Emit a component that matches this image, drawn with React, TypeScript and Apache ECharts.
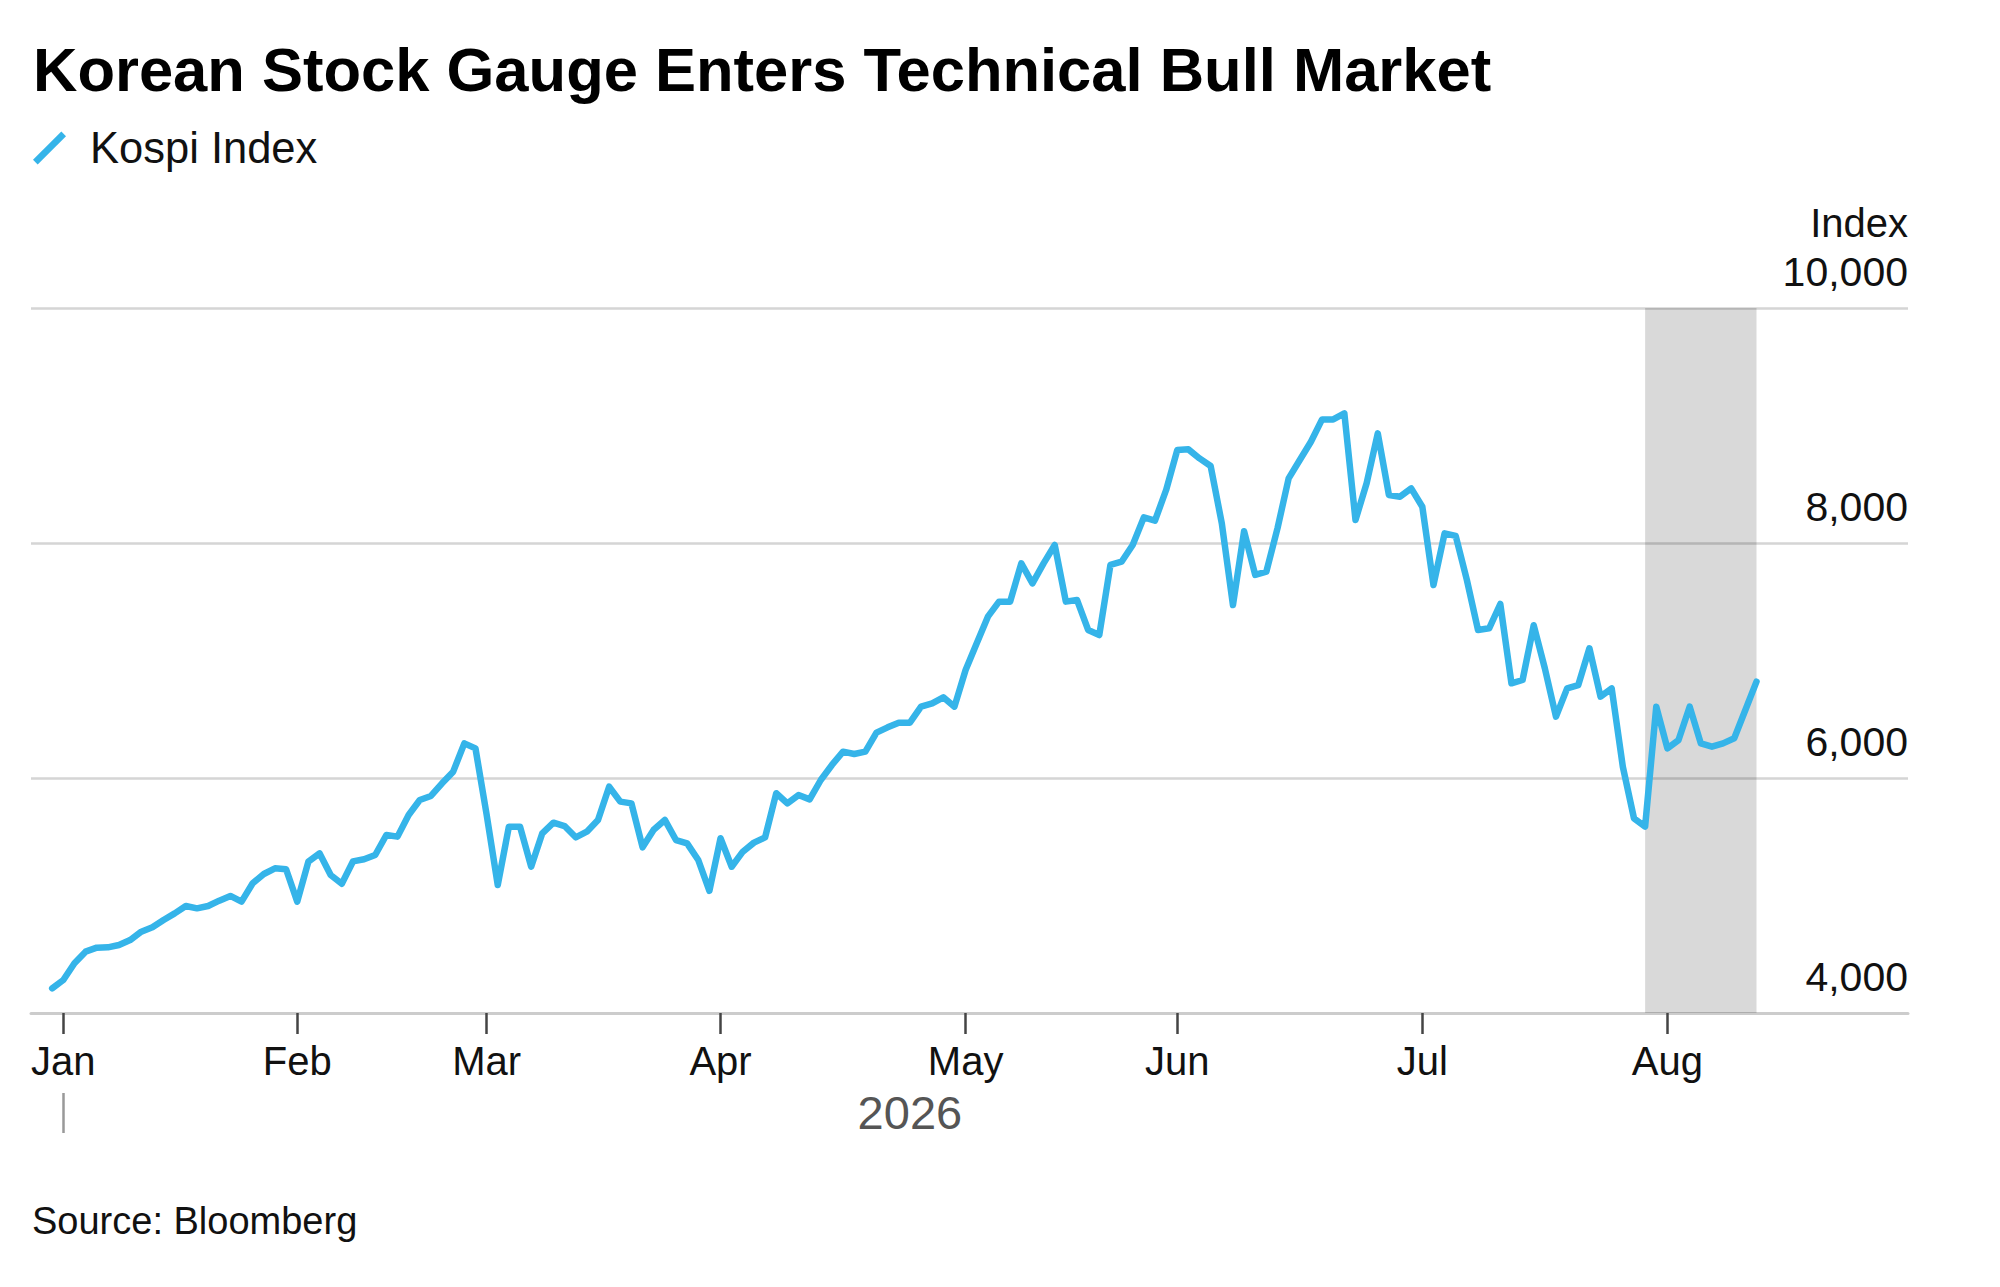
import React, { useEffect, useRef } from "react";
import * as echarts from "echarts";

// ---- Data ----
const titleText = "Korean Stock Gauge Enters Technical Bull Market";
const seriesName = "Kospi Index";
const sourceText = "Source: Bloomberg";
const yAxisName = "Index";

// Month tick labels and the trading-day index where each month starts
const monthLabels = ["Jan", "Feb", "Mar", "Apr", "May", "Jun", "Jul", "Aug"];
const monthStartIndex = [1, 22, 39, 60, 82, 101, 123, 145];
const yearLabel = "2026";
const yearStartIndex = 1;
const yearLabelIndex = 77;

const yTicks = [4000, 6000, 8000, 10000];

// Daily Kospi closes (trading days, index 0 = last session of prior year)
const kospiValues = [
  4210, 4281, 4423, 4522, 4556, 4559, 4579, 4621, 4692, 4729,
  4791, 4848, 4911, 4891, 4911, 4956, 4996, 4948, 5104, 5183,
  5231, 5223, 4948, 5288, 5359, 5174, 5100, 5290, 5308, 5345,
  5515, 5501, 5685, 5813, 5847, 5955, 6054, 6295, 6252, 5690,
  5089, 5586, 5586, 5245, 5529, 5620, 5591, 5495, 5543, 5643,
  5926, 5799, 5784, 5410, 5560, 5643, 5472, 5444, 5302, 5040,
  5487, 5245, 5373, 5450, 5495, 5870, 5784, 5855, 5818, 5983,
  6111, 6224, 6204, 6224, 6386, 6431, 6471, 6471, 6607, 6635,
  6687, 6607, 6919, 7146, 7373, 7501, 7501, 7827, 7657, 7827,
  7983, 7501, 7515, 7260, 7217, 7813, 7841, 7983, 8218, 8190,
  8451, 8791, 8797, 8720, 8655, 8167, 7472, 8100, 7728, 7756,
  8125, 8550, 8706, 8862, 9052, 9052, 9104, 8196, 8508, 8933,
  8409, 8394, 8465, 8309, 7643, 8082, 8060, 7685, 7260, 7274,
  7481, 6806, 6834, 7300, 6933, 6522, 6763, 6791, 7104, 6692,
  6763, 6096, 5657, 5586, 6607, 6252, 6323, 6607, 6295, 6267,
  6295, 6338, 6579, 6820,
];

// Shaded rally window (trading-day indices)
const rallyStartIndex = 143;
const rallyEndIndex = 153;

const FONT = "'Liberation Sans', Arial, Helvetica, sans-serif";
const LINE_COLOR = "#35b4e9";

export default function App() {
  const ref = useRef<HTMLDivElement>(null);

  useEffect(() => {
    if (!ref.current) return;
    const chart = echarts.init(ref.current, undefined, { renderer: "svg" });

    const xMin = -1.9;
    const xMax = 166.6;

    const option: any = {
      animation: false,
      backgroundColor: "#ffffff",
      textStyle: { fontFamily: FONT },
      title: [
        {
          text: titleText,
          left: 33,
          top: 38,
          padding: 0,
          textStyle: {
            fontFamily: FONT,
            fontSize: 61.5,
            fontWeight: "bold",
            color: "#000000",
            lineHeight: 62,
          },
        },
        {
          text: yAxisName,
          right: 92,
          top: 203,
          padding: 0,
          textStyle: {
            fontFamily: FONT,
            fontSize: 40,
            fontWeight: "normal",
            color: "#111111",
            lineHeight: 40,
          },
        },
        {
          text: sourceText,
          left: 32,
          top: 1202,
          padding: 0,
          textStyle: {
            fontFamily: FONT,
            fontSize: 38,
            fontWeight: "normal",
            color: "#111111",
            lineHeight: 38,
          },
        },
      ],
      legend: {
        left: 33,
        top: 126,
        padding: 0,
        itemWidth: 33,
        itemHeight: 33,
        data: [
          {
            name: seriesName,
            icon: "path://M0,28 L28,0 L32.6,4.6 L4.6,32.6 Z",
            itemStyle: { color: LINE_COLOR },
          },
        ],
        textStyle: {
          fontFamily: FONT,
          fontSize: 43.5,
          color: "#111111",
          lineHeight: 43,
          padding: [0, 0, 0, 19],
        },
        selectedMode: false,
      },
      grid: {
        left: 31,
        right: 92,
        top: 308,
        bottom: 274,
        containLabel: false,
        outerBoundsMode: "none",
      },
      xAxis: [
        {
          type: "value",
          min: xMin,
          max: xMax,
          position: "bottom",
          splitLine: { show: false },
          axisLine: {
            show: true,
            onZero: false,
            lineStyle: { color: "#cccccc", width: 3 },
          },
          axisTick: {
            show: true,
            length: 21,
            customValues: monthStartIndex,
            lineStyle: { color: "#444444", width: 2.5 },
          },
          axisLabel: {
            show: true,
            customValues: monthStartIndex,
            margin: 28,
            fontFamily: FONT,
            fontSize: 40,
            lineHeight: 40,
            color: "#111111",
            formatter: (v: number) => {
              const k = monthStartIndex.indexOf(Math.round(v));
              return k >= 0 ? monthLabels[k] : "";
            },
          },
        },
        {
          type: "value",
          min: xMin,
          max: xMax,
          position: "bottom",
          offset: 80,
          splitLine: { show: false },
          axisLine: { show: false },
          axisTick: {
            show: true,
            length: 40,
            customValues: [yearStartIndex],
            lineStyle: { color: "#999999", width: 2.5 },
          },
          axisLabel: {
            show: true,
            customValues: [yearLabelIndex],
            margin: -4,
            fontFamily: FONT,
            fontSize: 47,
            lineHeight: 47,
            color: "#555555",
            formatter: () => yearLabel,
          },
        },
      ],
      yAxis: {
        type: "value",
        position: "right",
        min: yTicks[0],
        max: yTicks[yTicks.length - 1],
        interval: yTicks[1] - yTicks[0],
        axisLine: { show: false },
        axisTick: { show: false },
        splitLine: {
          show: true,
          lineStyle: { color: "#d5d5d5", width: 2.5 },
        },
        axisLabel: {
          inside: true,
          margin: 0,
          fontFamily: FONT,
          fontSize: 41,
          lineHeight: 41,
          color: "#111111",
          verticalAlign: "bottom",
          padding: [0, 0, 16, 0],
          formatter: (v: number) => v.toLocaleString("en-US"),
        },
      },
      series: [
        {
          name: seriesName,
          type: "line",
          xAxisIndex: 0,
          yAxisIndex: 0,
          data: kospiValues.map((v, i) => [i, v]),
          showSymbol: false,
          symbol: "none",
          smooth: false,
          lineStyle: {
            color: LINE_COLOR,
            width: 6.5,
            cap: "round",
            join: "round",
          },
          itemStyle: { color: LINE_COLOR },
          markArea: {
            silent: true,
            itemStyle: { color: "rgba(0,0,0,0.15)" },
            data: [[{ xAxis: rallyStartIndex }, { xAxis: rallyEndIndex }]],
          },
          z: 3,
        },
      ],
    };

    chart.setOption(option);
    return () => {
      chart.dispose();
    };
  }, []);

  return (
    <div
      ref={ref}
      style={{
        position: "absolute",
        left: 0,
        top: 0,
        width: 2000,
        height: 1287,
        background: "#ffffff",
      }}
    />
  );
}
